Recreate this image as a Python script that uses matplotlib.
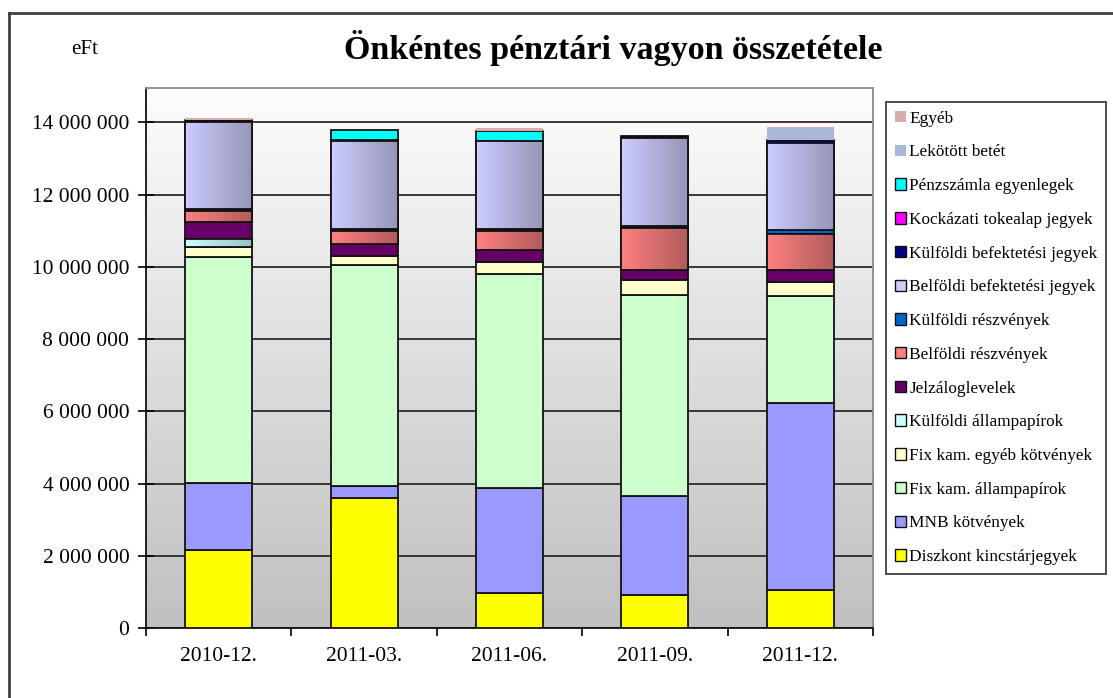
import matplotlib
matplotlib.use("Agg")
import matplotlib.pyplot as plt
import numpy as np
from matplotlib.colors import LinearSegmentedColormap
from matplotlib.patches import Patch
from matplotlib.lines import Line2D
from matplotlib.ticker import FuncFormatter, FixedLocator

plt.rcParams['font.family'] = ['Liberation Serif', 'DejaVu Serif']

periods = ['2010-12.', '2011-03.', '2011-06.', '2011-09.', '2011-12.']

# eFt, stacked from the bottom up
diszkont = [2150000, 3600000, 970000, 910000, 1050000]
mnb = [1870000, 330000, 2910000, 2740000, 5190000]
fix_allam = [6250000, 6110000, 5930000, 5570000, 2940000]
fix_egyeb = [270000, 270000, 330000, 410000, 400000]
kulf_allam = [240000, 0, 0, 0, 0]
jelzalog = [460000, 330000, 320000, 290000, 330000]
belf_reszveny = [300000, 340000, 530000, 1150000, 990000]
kulf_reszveny = [60000, 60000, 60000, 70000, 130000]
belf_befjegy = [2400000, 2450000, 2420000, 2430000, 2410000]
kulf_befjegy = [60000, 10000, 10000, 60000, 70000]
kockazati = [0, 0, 0, 0, 0]
penzszamla = [0, 280000, 270000, 0, 0]
lekotott = [0, 0, 0, 0, 320000]
egyeb = [50000, 20000, 80000, 0, 50000]

# label, values, colour, gradient end colour (or None), black edge?
series = [
    ('Diszkont kincstárjegyek', diszkont, '#FFFF00', None, True),
    ('MNB kötvények', mnb, '#9999FF', None, True),
    ('Fix kam. állampapírok', fix_allam, '#CCFFCC', None, True),
    ('Fix kam. egyéb kötvények', fix_egyeb, '#FFFFCC', None, True),
    ('Külföldi állampapírok', kulf_allam, '#CCFFFF', '#99C2C2', True),
    ('Jelzáloglevelek', jelzalog, '#660066', None, True),
    ('Belföldi részvények', belf_reszveny, '#FF8080', '#B05C5C', True),
    ('Külföldi részvények', kulf_reszveny, '#0066CC', None, True),
    ('Belföldi befektetési jegyek', belf_befjegy, '#CCCCFF', '#9696B8', True),
    ('Külföldi befektetési jegyek', kulf_befjegy, '#000080', None, True),
    ('Kockázati tokealap jegyek', kockazati, '#FF00FF', None, True),
    ('Pénzszámla egyenlegek', penzszamla, '#00FFFF', None, True),
    ('Lekötött betét', lekotott, '#AAB8D8', None, False),
    ('Egyéb', egyeb, '#DDAAAA', None, False),
]

W, H = 1113, 698
fig = plt.figure(figsize=(W / 100, H / 100), dpi=100)
ax = fig.add_axes([146 / W, 1 - 628 / H, (873 - 146) / W, (628 - 88) / H])

x = np.arange(len(periods))
width = 0.46
ymax = 14950000

# plot area background: white at the top fading to grey
bg = LinearSegmentedColormap.from_list('bg', ['#FDFDFD', '#C0C0C0'])
ax.imshow(np.linspace(0, 1, 256).reshape(-1, 1), extent=[0, 1, 0, 1],
          transform=ax.transAxes, cmap=bg, aspect='auto', zorder=0)

bottom = np.zeros(len(periods))
for label, vals, col, grad, edge in series:
    vals = np.array(vals, dtype=float)
    idx = vals > 0
    if idx.any():
        bars = ax.bar(x[idx], vals[idx], width, bottom=bottom[idx], color=col,
                      edgecolor='#111111' if edge else 'none',
                      linewidth=1.3 if edge else 0, zorder=3)
        if grad is not None:
            cm = LinearSegmentedColormap.from_list('g', [col, grad])
            for b in bars:
                im = ax.imshow(np.linspace(0, 1, 64).reshape(1, -1),
                               extent=[b.get_x(), b.get_x() + b.get_width(),
                                       b.get_y(), b.get_y() + b.get_height()],
                               cmap=cm, aspect='auto', zorder=3.1)
                im.set_clip_path(b)
            ax.bar(x[idx], vals[idx], width, bottom=bottom[idx], fill=False,
                   edgecolor='#111111', linewidth=1.3, zorder=3.2)
    bottom += vals

ax.set_xlim(-0.5, len(periods) - 0.5)
ax.set_ylim(0, ymax)

ax.set_axisbelow(True)
ax.yaxis.grid(True, color='#2A2A2A', linewidth=1.3)
ax.yaxis.set_major_locator(FixedLocator(np.arange(0, 14000001, 2000000)))
ax.yaxis.set_major_formatter(FuncFormatter(lambda v, p: f'{v:,.0f}'.replace(',', ' ')))
ax.tick_params(axis='y', direction='inout', length=12, width=1.2, labelsize=15.5, pad=6)

ax.xaxis.set_major_locator(FixedLocator(np.arange(-0.5, len(periods), 1.0)))
ax.xaxis.set_minor_locator(FixedLocator(x))
ax.xaxis.set_major_formatter(FuncFormatter(lambda v, p: ''))
ax.set_xticklabels(periods, minor=True)
ax.tick_params(axis='x', which='major', direction='out', length=6, width=1.2)
ax.tick_params(axis='x', which='minor', length=0, labelsize=15.5, pad=14)

for s in ['left', 'bottom']:
    ax.spines[s].set_color('#111111')
    ax.spines[s].set_linewidth(1.3)
for s in ['top', 'right']:
    ax.spines[s].set_color('#8A8A8A')
    ax.spines[s].set_linewidth(1.3)

fig.text(613 / W, 1 - 48 / H, 'Önkéntes pénztári vagyon összetétele',
         ha='center', va='center', fontsize=24.5, fontweight='bold')
fig.text(85 / W, 1 - 50 / H, 'eFt', ha='center', va='center', fontsize=15)

# legend, top entry first
handles = []
for label, vals, col, grad, edge in reversed(series):
    handles.append(Patch(facecolor=col, edgecolor='#111111' if edge else 'none',
                         linewidth=1.0 if edge else 0, label=label))
leg = fig.legend(handles=handles, loc='upper left',
                 bbox_to_anchor=(886 / W, 1 - 102 / H), fontsize=12.4,
                 frameon=True, fancybox=False, edgecolor='#111111',
                 handlelength=0.65, handleheight=0.65, handletextpad=0.2,
                 labelspacing=1.03, borderpad=0.5, borderaxespad=0)
leg.get_frame().set_linewidth(1.3)

# outer chart border
fig.add_artist(Line2D([9 / W, 9 / W], [0, 1 - 13 / H], transform=fig.transFigure,
                      color='#404040', linewidth=2))
fig.add_artist(Line2D([9 / W, 1], [1 - 13 / H, 1 - 13 / H], transform=fig.transFigure,
                      color='#404040', linewidth=2))

fig.savefig('out.png', dpi=100)
